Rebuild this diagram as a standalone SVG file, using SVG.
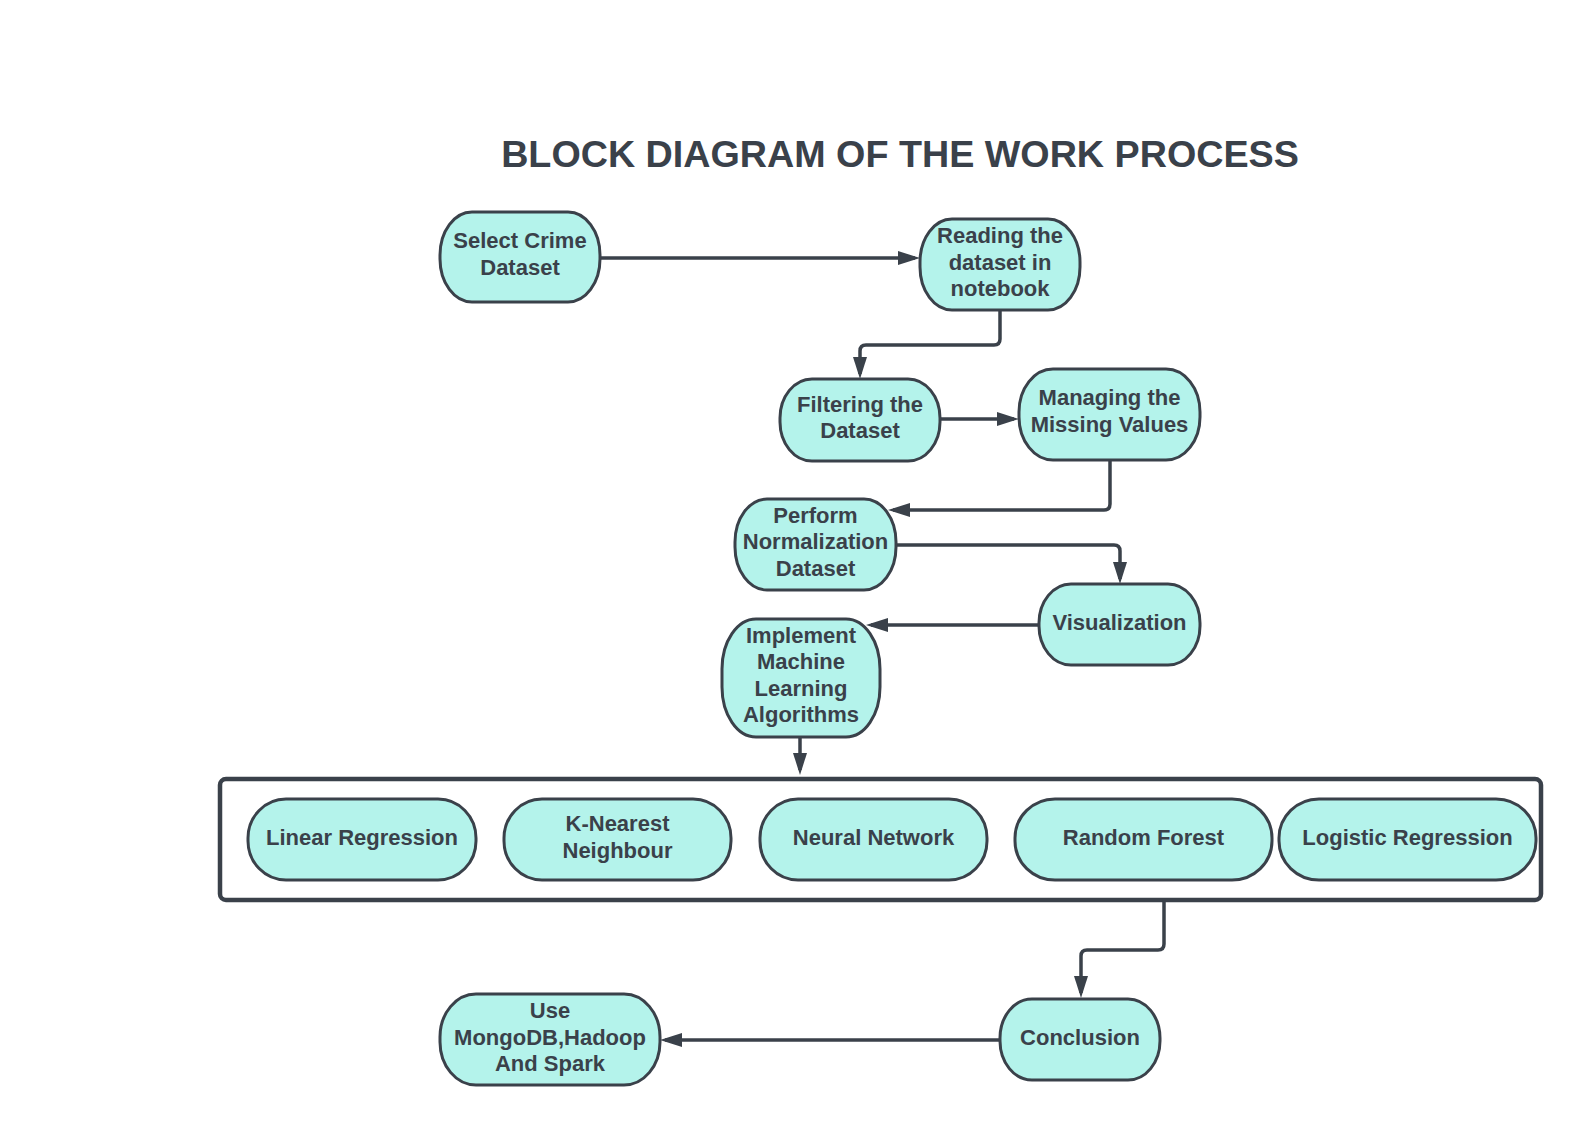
<svg xmlns="http://www.w3.org/2000/svg" width="1580" height="1125" viewBox="0 0 1580 1125">
<style>
.n{fill:#b4f3eb;stroke:#3a414a;stroke-width:3}
.t{font-family:"Liberation Sans",Arial,sans-serif;font-weight:bold;font-size:22px;fill:#3a414a;text-anchor:middle}
.c{fill:none;stroke:#3a414a;stroke-width:3.5}
.title{font-family:"Liberation Sans",Arial,sans-serif;font-weight:bold;font-size:37.7px;fill:#3a414a;text-anchor:middle}
</style>
<defs>
<marker id="ah" markerUnits="userSpaceOnUse" markerWidth="24" markerHeight="16" refX="17" refY="7" orient="auto">
<path d="M0,0 L22,7 L0,14 z" fill="#3a414a"/>
</marker>
</defs>
<rect width="1580" height="1125" fill="#ffffff"/>
<text class="title" x="900" y="167">BLOCK DIAGRAM OF THE WORK PROCESS</text>

<g id="container">
<rect x="220" y="779" width="1321" height="121" rx="6" ry="6" fill="none" stroke="#3a414a" stroke-width="4.5"/>
</g>

<g id="connectors">
<path class="c" marker-end="url(#ah)" d="M600,258 H915"/>
<path class="c" marker-end="url(#ah)" d="M1000,310 V339 Q1000,345 994,345 H866 Q860,345 860,351 V374"/>
<path class="c" marker-end="url(#ah)" d="M940,419 H1014"/>
<path class="c" marker-end="url(#ah)" d="M1110,460 V504 Q1110,510 1104,510 H893"/>
<path class="c" marker-end="url(#ah)" d="M896,545 H1114 Q1120,545 1120,551 V579"/>
<path class="c" marker-end="url(#ah)" d="M1039,625 H871"/>
<path class="c" marker-end="url(#ah)" d="M800,737 V770"/>
<path class="c" marker-end="url(#ah)" d="M1164,900 V944 Q1164,950 1158,950 H1087 Q1081,950 1081,956 V993"/>
<path class="c" marker-end="url(#ah)" d="M1000,1040 H665"/>
</g>

<g id="select">
<rect class="n" x="440" y="212" width="160" height="90" rx="32" ry="43"/>
<text class="t" x="520" y="248">Select Crime</text>
<text class="t" x="520" y="275">Dataset</text>
</g>
<g id="reading">
<rect class="n" x="920" y="219" width="160" height="91" rx="32" ry="43"/>
<text class="t" x="1000" y="243">Reading the</text>
<text class="t" x="1000" y="270">dataset in</text>
<text class="t" x="1000" y="296">notebook</text>
</g>
<g id="filtering">
<rect class="n" x="780" y="379" width="160" height="82" rx="32" ry="39"/>
<text class="t" x="860" y="412">Filtering the</text>
<text class="t" x="860" y="438">Dataset</text>
</g>
<g id="managing">
<rect class="n" x="1019" y="369" width="181" height="91" rx="34" ry="43"/>
<text class="t" x="1109.5" y="405">Managing the</text>
<text class="t" x="1109.5" y="432">Missing Values</text>
</g>
<g id="perform">
<rect class="n" x="735" y="499" width="161" height="91" rx="32" ry="43"/>
<text class="t" x="815.5" y="523">Perform</text>
<text class="t" x="815.5" y="549">Normalization</text>
<text class="t" x="815.5" y="576">Dataset</text>
</g>
<g id="visualization">
<rect class="n" x="1039" y="584" width="161" height="81" rx="32" ry="39"/>
<text class="t" x="1119.5" y="630">Visualization</text>
</g>
<g id="implement">
<rect class="n" x="722" y="619" width="158" height="118" rx="34" ry="50"/>
<text class="t" x="801" y="643">Implement</text>
<text class="t" x="801" y="669">Machine</text>
<text class="t" x="801" y="696">Learning</text>
<text class="t" x="801" y="722">Algorithms</text>
</g>
<g id="linear">
<rect class="n" x="248" y="799" width="228" height="81" rx="38" ry="39"/>
<text class="t" x="362" y="845">Linear Regression</text>
</g>
<g id="knn">
<rect class="n" x="504" y="799" width="227" height="81" rx="38" ry="39"/>
<text class="t" x="617.5" y="831">K-Nearest</text>
<text class="t" x="617.5" y="858">Neighbour</text>
</g>
<g id="neural">
<rect class="n" x="760" y="799" width="227" height="81" rx="38" ry="39"/>
<text class="t" x="873.5" y="845">Neural Network</text>
</g>
<g id="random">
<rect class="n" x="1015" y="799" width="257" height="81" rx="40" ry="39"/>
<text class="t" x="1143.5" y="845">Random Forest</text>
</g>
<g id="logistic">
<rect class="n" x="1279" y="799" width="257" height="81" rx="40" ry="39"/>
<text class="t" x="1407.5" y="845">Logistic Regression</text>
</g>
<g id="conclusion">
<rect class="n" x="1000" y="999" width="160" height="81" rx="32" ry="39"/>
<text class="t" x="1080" y="1045">Conclusion</text>
</g>
<g id="use">
<rect class="n" x="440" y="994" width="220" height="91" rx="36" ry="43"/>
<text class="t" x="550" y="1018">Use</text>
<text class="t" x="550" y="1045">MongoDB,Hadoop</text>
<text class="t" x="550" y="1071">And Spark</text>
</g>
</svg>
